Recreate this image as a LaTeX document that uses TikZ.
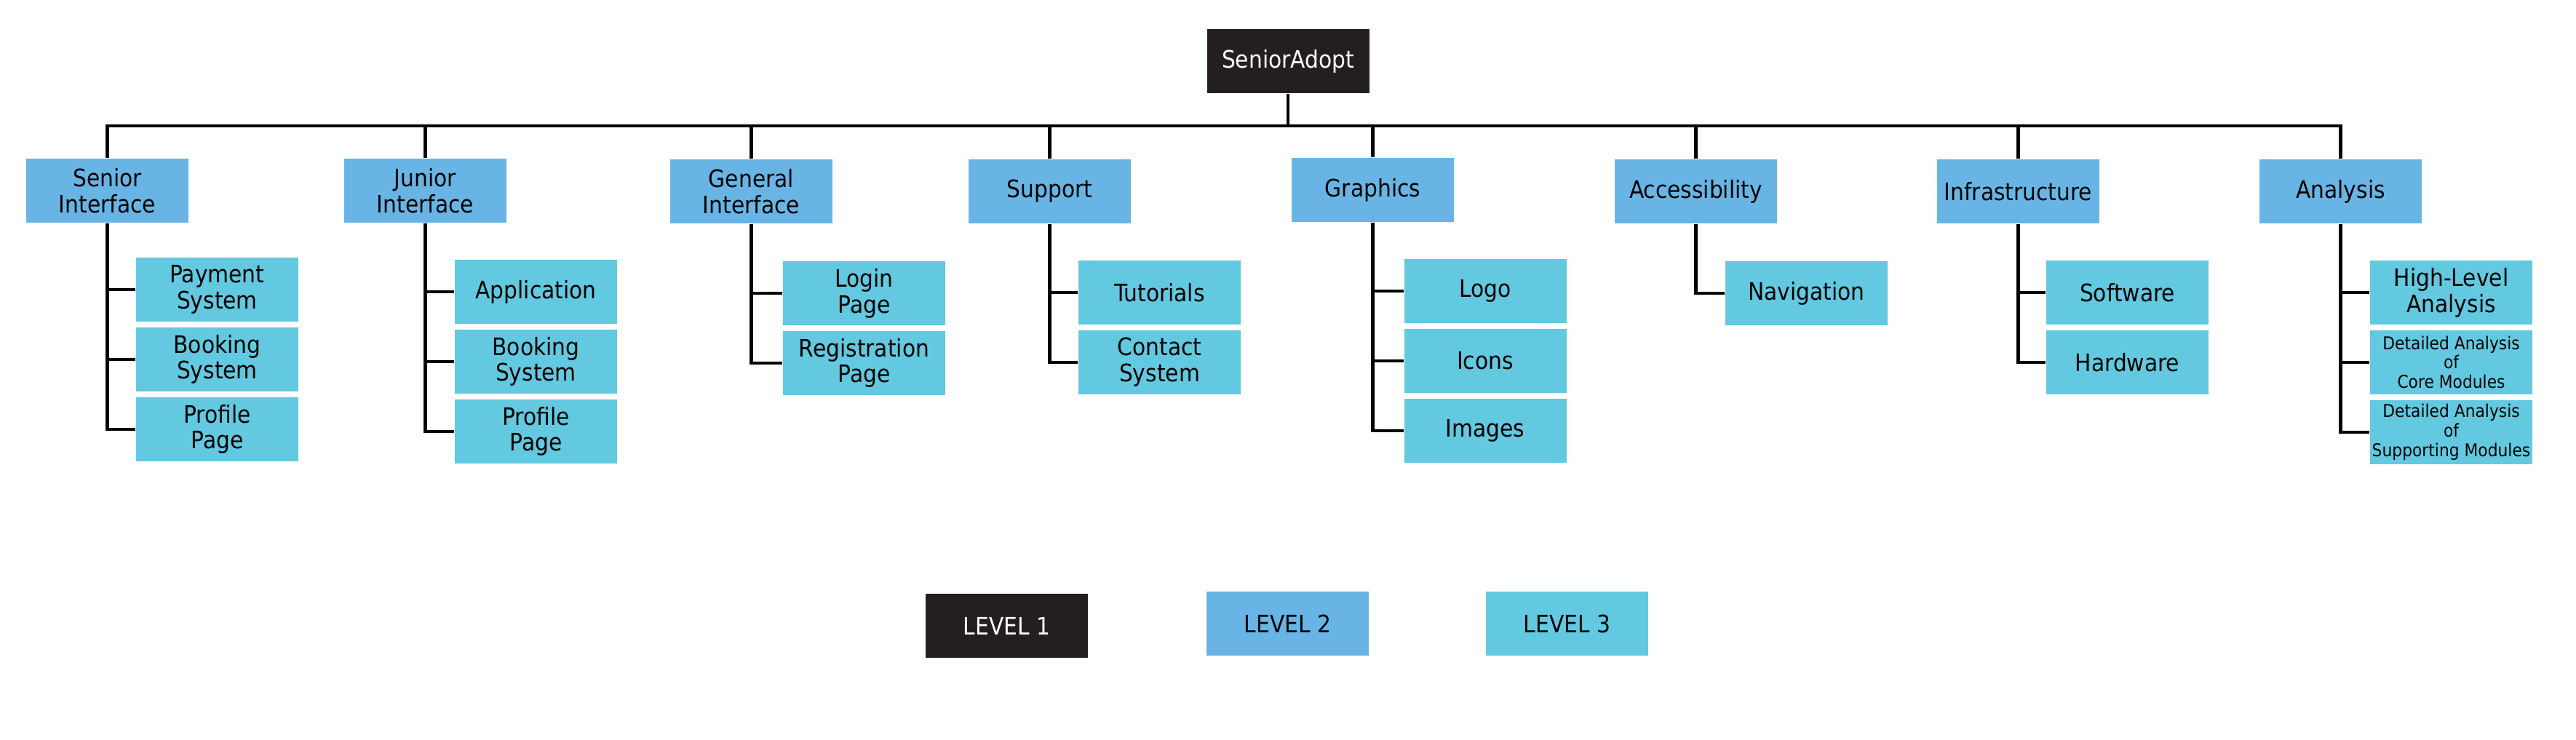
\documentclass[tikz,border=0pt]{standalone}
\usepackage{fontspec}
\setmainfont{DejaVu Sans Condensed}
\usetikzlibrary{positioning}
\definecolor{lvlonefill}{HTML}{231F20}
\definecolor{lvltwofill}{HTML}{68B5E5}
\definecolor{lvlthreefill}{HTML}{62C9E0}
\tikzset{box/.style={shape=rectangle, minimum width=2.23cm, minimum height=0.88cm,
    inner sep=0pt, align=center, font=\fontsize{9.4}{10.2}\selectfont}}
\tikzset{lvlone/.style={box, fill=lvlonefill, text=white}}
\tikzset{lvltwo/.style={box, fill=lvltwofill, text=black}}
\tikzset{lvlthree/.style={box, fill=lvlthreefill, text=black}}
\tikzset{link/.style={draw=black, line width=1.3pt}}

\begin{document}
\begin{tikzpicture}[node distance=0.065cm]
    \useasboundingbox (0,0) rectangle (35.40,-10.17);

    % level 1
    \node[lvlone] (root) at (17.70,-0.84) {SeniorAdopt};
    \coordinate (bus) at (17.70,-1.73);

    % level 2
    \node[lvltwo] (sen) at (1.475,-2.62) {Senior\\Interface};
    \node[lvltwo] (jun) at (5.845,-2.62) {Junior\\Interface};
    \node[lvltwo] (gen) at (10.325,-2.63) {General\\Interface};
    \node[lvltwo] (sup) at (14.425,-2.63) {Support};
    \node[lvltwo] (gra) at (18.865,-2.61) {Graphics};
    \node[lvltwo] (acc) at (23.305,-2.63) {Accessibility};
    \node[lvltwo] (inf) at (27.735,-2.63) {Infrastructure};
    \node[lvltwo] (ana) at (32.165,-2.63) {Analysis};

    % level 3
    \node[lvlthree] (senpay) at (2.985,-3.98) {Payment\\System};
    \node[lvlthree] (senbook) [below=of senpay] {Booking\\System};
    \node[lvlthree] (senprof) [below=of senbook] {Profile\\Page};

    \node[lvlthree] (junapp) at (7.365,-4.01) {Application};
    \node[lvlthree] (junbook) [below=of junapp] {Booking\\System};
    \node[lvlthree] (junprof) [below=of junbook] {Profile\\Page};

    \node[lvlthree] (genlog) at (11.875,-4.03) {Login\\Page};
    \node[lvlthree] (genreg) [below=of genlog] {Registration\\Page};

    \node[lvlthree] (suptut) at (15.935,-4.02) {Tutorials};
    \node[lvlthree] (supcon) [below=of suptut] {Contact\\System};

    \node[lvlthree] (gralogo) at (20.41,-4.00) {Logo};
    \node[lvlthree] (graicon) [below=of gralogo] {Icons};
    \node[lvlthree] (graimg) [below=of graicon] {Images};

    \node[lvlthree] (accnav) at (24.825,-4.03) {Navigation};

    \node[lvlthree] (infsoft) at (29.235,-4.02) {Software};
    \node[lvlthree] (infhard) [below=of infsoft] {Hardware};

    \node[lvlthree] (anahigh) at (33.685,-4.02) {High-Level\\Analysis};
    \node[lvlthree, font=\fontsize{6.9}{7.6}\selectfont] (anacore) [below=of anahigh]
        {Detailed Analysis\\of\\Core Modules};
    \node[lvlthree, font=\fontsize{6.9}{7.6}\selectfont] (anasupp) [below=of anacore]
        {Detailed Analysis\\of\\Supporting Modules};

    % legend
    \node[lvlone] (legone) at (13.835,-8.60) {LEVEL 1};
    \node[lvltwo] (legtwo) at (17.695,-8.57) {LEVEL 2};
    \node[lvlthree] (legthree) at (21.535,-8.57) {LEVEL 3};

    % bus
    \draw[link] (root) -- (bus);
    \foreach \p in {sen,jun,gen,sup,gra,acc,inf,ana}
        \draw[link] (\p.north) |- (bus);

    % branches
    \foreach \p/\c in {sen/senpay, sen/senbook, sen/senprof,
                       jun/junapp, jun/junbook, jun/junprof,
                       gen/genlog, gen/genreg,
                       sup/suptut, sup/supcon,
                       gra/gralogo, gra/graicon, gra/graimg,
                       acc/accnav,
                       inf/infsoft, inf/infhard,
                       ana/anahigh, ana/anacore, ana/anasupp}
        \draw[link] (\p.south) |- (\c.west);

\end{tikzpicture}
\end{document}
